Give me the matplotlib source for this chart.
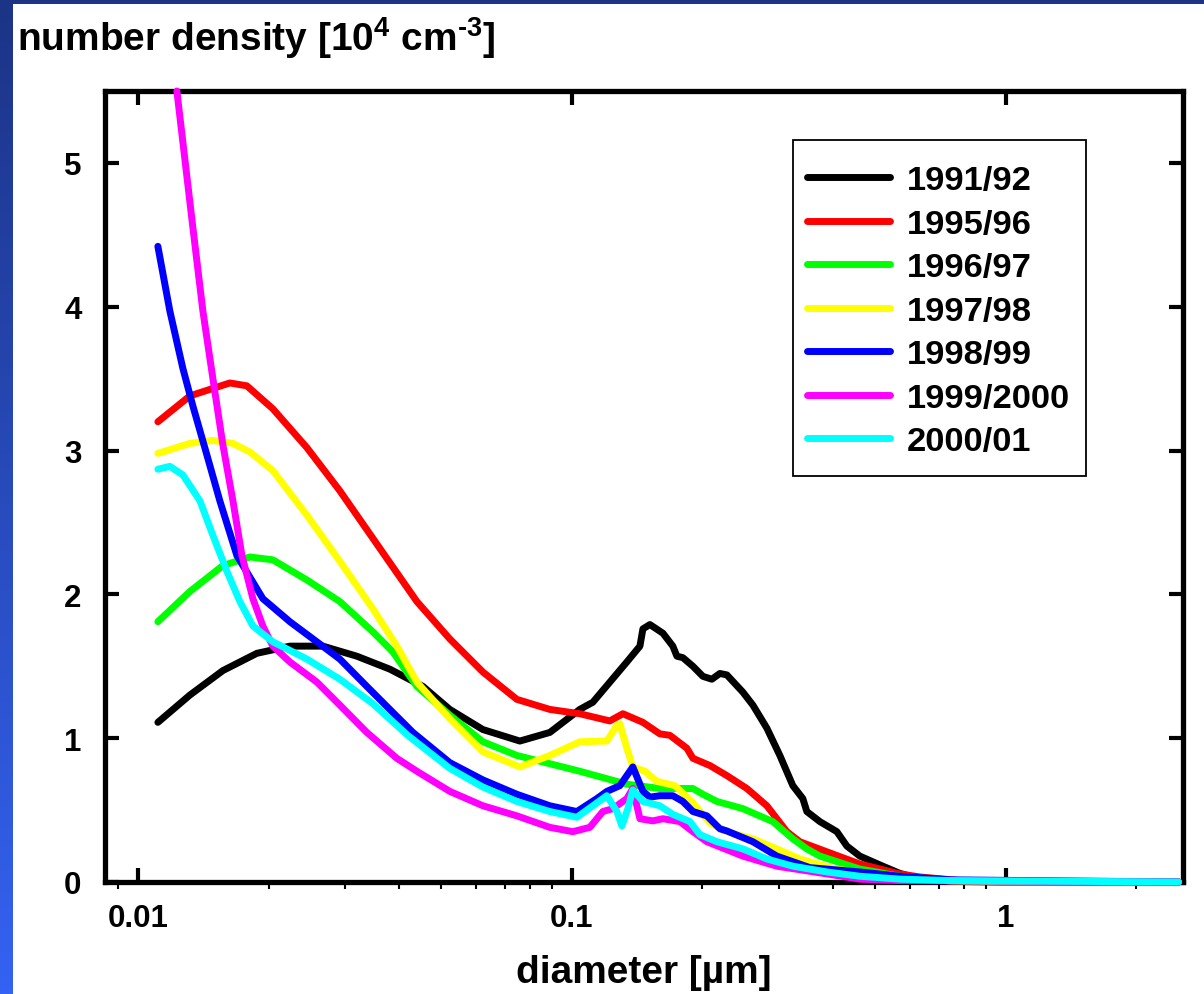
import numpy as np
import matplotlib
matplotlib.use("Agg")
import matplotlib.pyplot as plt
from matplotlib.patches import Rectangle
from matplotlib.ticker import LogLocator, FixedLocator, NullFormatter

plt.rcParams['font.family'] = ['Liberation Sans', 'DejaVu Sans']
plt.rcParams['font.weight'] = 'bold'
plt.rcParams['mathtext.fontset'] = 'custom'
plt.rcParams['mathtext.rm'] = 'Liberation Sans:bold'
plt.rcParams['mathtext.bf'] = 'Liberation Sans:bold'
plt.rcParams['mathtext.it'] = 'Liberation Sans:bold'

# ---- size distributions: diameter [um] and number density [1e4 cm^-3] ----
d_9192 = [0.01112, 0.01318, 0.0157, 0.0188, 0.0224, 0.02669, 0.03196, 0.03807, 0.04537,
          0.05234, 0.06238, 0.07589, 0.08898, 0.1043, 0.1118, 0.1339, 0.1435, 0.1458, 0.1513,
          0.1621, 0.1709, 0.1746, 0.1802, 0.1901, 0.2004, 0.2102, 0.2193, 0.2276, 0.2478,
          0.2613, 0.2814, 0.3015, 0.323, 0.3406, 0.3479, 0.3728, 0.408, 0.4302, 0.4609, 0.5207,
          0.5698, 0.6106, 0.7046, 0.9687, 2.5]
n_9192 = [1.11, 1.30, 1.47, 1.59, 1.64, 1.64, 1.57, 1.48, 1.36, 1.20, 1.06, 0.98, 1.04, 1.20,
          1.25, 1.53, 1.64, 1.76, 1.79, 1.73, 1.64, 1.57, 1.56, 1.50, 1.43, 1.41, 1.45, 1.44,
          1.32, 1.23, 1.07, 0.88, 0.67, 0.58, 0.49, 0.42, 0.35, 0.25, 0.18, 0.11, 0.06, 0.035,
          0.005, 0.0, 0.0]

d_9596 = [0.01112, 0.01318, 0.01629, 0.01783, 0.02047, 0.02452, 0.0292, 0.03479, 0.03747,
          0.04395, 0.05234, 0.06238, 0.07469, 0.08898, 0.1043, 0.1223, 0.1311, 0.1458, 0.1595,
          0.1682, 0.1841, 0.1901, 0.208, 0.2276, 0.2531, 0.2814, 0.3129, 0.3352, 0.3869,
          0.4609, 0.5698, 0.6337, 0.7834, 0.9687, 2.5]
n_9596 = [3.20, 3.38, 3.47, 3.45, 3.29, 3.02, 2.72, 2.39, 2.25, 1.95, 1.69, 1.46, 1.27, 1.20,
          1.17, 1.12, 1.17, 1.11, 1.03, 1.02, 0.93, 0.86, 0.81, 0.74, 0.65, 0.53, 0.35, 0.28,
          0.21, 0.125, 0.056, 0.035, 0.01, 0.003, 0.0]

d_9697 = [0.01112, 0.01318, 0.0157, 0.01812, 0.02047, 0.02452, 0.0292, 0.03479, 0.03868,
          0.04395, 0.05234, 0.06238, 0.07469, 0.1043, 0.1339, 0.1595, 0.1901, 0.2004, 0.2159,
          0.2478, 0.2905, 0.323, 0.3479, 0.3728, 0.4609, 0.5698, 0.7429, 0.9687, 2.5]
n_9697 = [1.81, 2.02, 2.20, 2.26, 2.24, 2.10, 1.95, 1.74, 1.60, 1.36, 1.16, 0.975, 0.88, 0.77,
          0.68, 0.65, 0.65, 0.61, 0.56, 0.51, 0.42, 0.30, 0.23, 0.18, 0.09, 0.04, 0.01, 0.002,
          0.0]

d_9798 = [0.01112, 0.01318, 0.01489, 0.01656, 0.01812, 0.02047, 0.02452, 0.0292, 0.03479,
          0.03951, 0.04395, 0.05234, 0.06238, 0.07589, 0.08898, 0.1043, 0.1204, 0.127, 0.129,
          0.1339, 0.1382, 0.1473, 0.157, 0.1727, 0.1901, 0.208, 0.2276, 0.2613, 0.2967,
          0.3352, 0.3931, 0.4609, 0.5698, 0.7429, 2.5]
n_9798 = [2.98, 3.05, 3.07, 3.05, 2.99, 2.86, 2.55, 2.23, 1.90, 1.64, 1.39, 1.135, 0.905, 0.80,
          0.88, 0.975, 0.98, 1.09, 1.10, 0.93, 0.80, 0.77, 0.70, 0.67, 0.55, 0.41, 0.35, 0.30,
          0.23, 0.16, 0.10, 0.06, 0.03, 0.008, 0.0]

d_9899 = [0.01112, 0.01185, 0.0127, 0.01339, 0.01442, 0.01545, 0.01691, 0.01941, 0.0224,
          0.02585, 0.0292, 0.0337, 0.03807, 0.04303, 0.05234, 0.06238, 0.07469, 0.08898,
          0.1027, 0.1142, 0.1204, 0.129, 0.1382, 0.1458, 0.1513, 0.1595, 0.1709, 0.1802,
          0.1901, 0.2047, 0.2193, 0.2276, 0.2613, 0.2967, 0.3535, 0.4609, 0.5698, 0.7429, 2.5]
n_9899 = [4.42, 3.97, 3.57, 3.31, 2.97, 2.65, 2.27, 1.97, 1.81, 1.67, 1.55, 1.36, 1.20, 1.04,
          0.83, 0.71, 0.61, 0.53, 0.49, 0.58, 0.63, 0.67, 0.80, 0.63, 0.59, 0.60, 0.60, 0.56,
          0.49, 0.46, 0.37, 0.355, 0.28, 0.18, 0.10, 0.07, 0.04, 0.015, 0.0]

d_9900 = [0.0123, 0.01339, 0.01412, 0.01489, 0.0157, 0.01656, 0.01737, 0.01841, 0.01941,
          0.02047, 0.0224, 0.02585, 0.0292, 0.0337, 0.03951, 0.04395, 0.05234, 0.06238,
          0.07469, 0.08898, 0.1005, 0.11, 0.1179, 0.1243, 0.1339, 0.1382, 0.1435, 0.1537,
          0.1621, 0.1774, 0.1901, 0.2047, 0.2478, 0.2967, 0.3869, 0.4609, 0.5698, 2.5]
n_9900 = [5.50, 4.55, 3.97, 3.50, 3.04, 2.65, 2.27, 1.97, 1.78, 1.64, 1.53, 1.39, 1.23, 1.04,
          0.86, 0.77, 0.63, 0.53, 0.46, 0.38, 0.35, 0.38, 0.49, 0.51, 0.58, 0.65, 0.44, 0.425,
          0.44, 0.42, 0.35, 0.28, 0.18, 0.11, 0.056, 0.02, 0.01, 0.0]

d_0001 = [0.01112, 0.01185, 0.0127, 0.0139, 0.01489, 0.01604, 0.01718, 0.01841, 0.02047,
          0.02452, 0.0292, 0.03479, 0.04185, 0.05234, 0.06238, 0.07469, 0.08898, 0.1027,
          0.1118, 0.1204, 0.127, 0.1304, 0.1346, 0.1382, 0.1458, 0.1595, 0.1709, 0.1871,
          0.1972, 0.2159, 0.2478, 0.2814, 0.323, 0.3869, 0.4609, 0.5698, 0.7429, 2.5]
n_0001 = [2.87, 2.89, 2.83, 2.65, 2.41, 2.16, 1.95, 1.78, 1.67, 1.55, 1.41, 1.24, 1.02, 0.79,
          0.66, 0.56, 0.49, 0.45, 0.53, 0.60, 0.49, 0.39, 0.51, 0.64, 0.56, 0.53, 0.47, 0.42,
          0.33, 0.28, 0.23, 0.16, 0.11, 0.07, 0.04, 0.02, 0.01, 0.0]

series_labels = ['1991/92', '1995/96', '1996/97', '1997/98', '1998/99', '1999/2000', '2000/01']
series_colors = ['#000000', '#ff0000', '#00ff00', '#ffff00', '#0000ff', '#ff00ff', '#00ffff']
series_d = [d_9192, d_9596, d_9697, d_9798, d_9899, d_9900, d_0001]
series_n = [n_9192, n_9596, n_9697, n_9798, n_9899, n_9900, n_0001]

W, H = 1204, 995
fig = plt.figure(figsize=(W / 100, H / 100), dpi=100)
fig.patch.set_facecolor('white')

# blue frame: gradient stripe on the left, dark bar on top
grad = np.linspace(0, 1, 256).reshape(-1, 1)
top_c = np.array([28, 52, 134]) / 255
bot_c = np.array([52, 98, 242]) / 255
img = top_c[None, None, :] * (1 - grad[:, :, None]) + bot_c[None, None, :] * grad[:, :, None]
ax_bg = fig.add_axes([0, 0, 13 / W, 1])
ax_bg.imshow(img, aspect='auto', extent=[0, 1, 0, 1])
ax_bg.set_axis_off()
fig.add_artist(Rectangle((0, 1 - 5 / H), 1, 5 / H, transform=fig.transFigure,
                         facecolor=top_c, edgecolor='none'))

ax = fig.add_axes([105 / W, 1 - 883 / H, (1183 - 105) / W, (883 - 92) / H])
for dd, nn, lab, col in zip(series_d, series_n, series_labels, series_colors):
    ax.plot(dd, nn, color=col, lw=5, label=lab, solid_capstyle='round',
            solid_joinstyle='round', clip_on=False, zorder=3)

ax.set_xscale('log')
ax.set_xlim(0.0084, 2.56)
ax.set_ylim(0, 5.5)

for s in ax.spines.values():
    s.set_linewidth(3.8)
    s.set_zorder(2)

ax.xaxis.set_major_locator(FixedLocator([0.01, 0.1, 1]))
ax.set_xticklabels(['0.01', '0.1', '1'])
ax.xaxis.set_minor_locator(LogLocator(base=10, subs=np.arange(2, 10) * 1.0, numticks=20))
ax.xaxis.set_minor_formatter(NullFormatter())
ax.set_yticks([0, 1, 2, 3, 4, 5])

ax.tick_params(axis='x', which='major', direction='in', length=10, width=3,
               top=True, bottom=True, labelsize=22.5, pad=15)
ax.tick_params(axis='x', which='minor', direction='out', length=5, width=1.5,
               top=False, bottom=True)
ax.tick_params(axis='y', which='major', direction='in', length=10, width=3,
               left=True, right=True, labelsize=22.5, pad=17)
for t in ax.get_xticklabels() + ax.get_yticklabels():
    t.set_fontweight('bold')

fig.text(17 / W, 1 - 51 / H, r'number density [10$^{4}$ cm$^{\text{-}3}$]',
         fontsize=28, fontweight='bold', ha='left', va='baseline')
ax.set_xlabel('diameter [µm]', fontsize=28, fontweight='bold', labelpad=15)

# legend box drawn separately so its padding can be set freely
ax.add_patch(Rectangle((793 / W, 1 - 477 / H), (1086 - 793) / W, (477 - 141) / H,
                       transform=fig.transFigure, facecolor='white', clip_on=False,
                       edgecolor='black', linewidth=1.3, zorder=4))
leg = ax.legend(loc='upper left', bbox_to_anchor=(807 / W, 1 - 166 / H),
                bbox_transform=fig.transFigure, borderaxespad=0, borderpad=0,
                fontsize=24.8, handlelength=2.41, handletextpad=0.49,
                labelspacing=0.36, frameon=False)
for t in leg.get_texts():
    t.set_fontweight('bold')
for h in leg.get_lines():
    h.set_solid_capstyle('round')
leg.set_zorder(6)

fig.savefig('out.png', dpi=100)
